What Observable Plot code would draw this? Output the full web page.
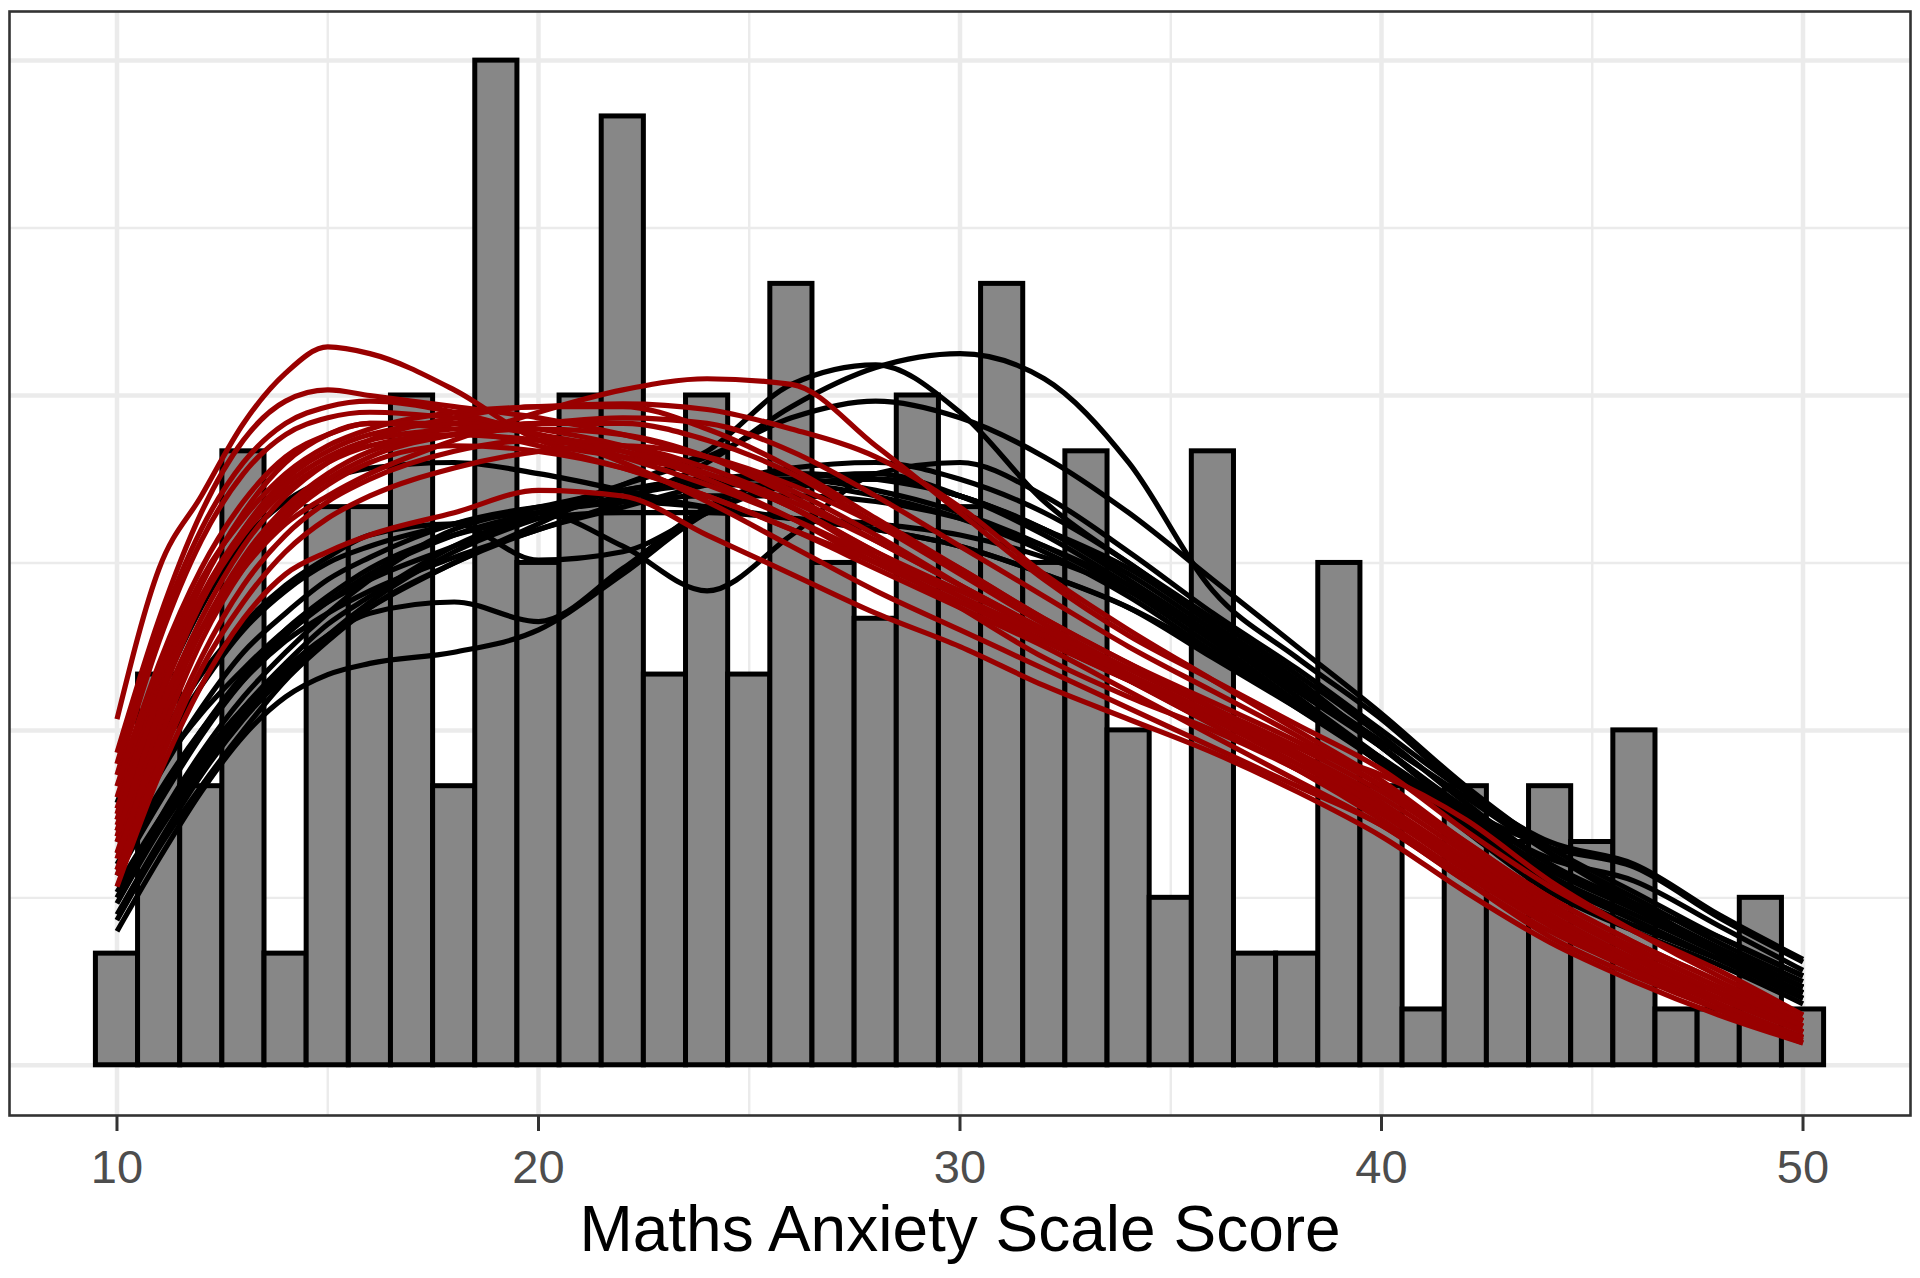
<!DOCTYPE html>
<html>
<head>
<meta charset="utf-8">
<script src="https://cdn.jsdelivr.net/npm/d3@7"></script>
<script src="https://cdn.jsdelivr.net/npm/@observablehq/plot@0.6"></script>
<style>
  html, body { margin: 0; padding: 0; background: #ffffff; }
  #chart svg { display: block; }
</style>
</head>
<body>
<div id="chart"></div>
<script>
// ---- Histogram: Maths Anxiety Scale Score (bin width 1) ----
const scoreBins = [10,11,12,13,14,15,16,17,18,19,20,21,22,23,24,25,26,27,28,29,30,31,32,33,34,35,36,37,38,39,40,41,42,43,44,45,46,47,48,49,50];
const binCounts = [2,7,5,11,2,10,10,12,5,18,9,12,17,7,12,7,14,9,8,12,10,14,9,11,6,3,11,2,2,9,5,1,5,4,5,4,6,1,1,3,1];

// ---- Density curves (scaled to count units), read at these scores ----
const curveX = [10,11,12,13,14,15,16,18,20,22,24,26,28,30,32,34,36,38,40,42,44,46,48,50];

// observed-data densities (black)
const observedCurves = [
  [3.6,4.9,6.0,6.9,7.6,8.1,8.5,9.1,9.6,10.1,10.8,11.8,12.5,12.75,12.3,10.8,8.5,7.3,6.2,4.9,3.8,2.9,2.1,1.4],
  [3.2,4.4,5.5,6.4,7.1,7.7,8.2,9.0,9.7,10.4,11.0,12.2,12.55,11.7,10.1,9.0,8.0,7.0,5.9,4.7,3.6,2.8,2.0,1.3],
  [4.0,5.3,6.3,7.1,7.8,8.3,8.7,9.3,9.9,10.4,10.9,11.6,11.9,11.6,10.9,9.9,8.7,7.5,6.3,5.0,3.9,3.1,2.3,1.6],
  [4.4,5.8,7.0,7.9,8.6,9.1,9.5,9.7,9.05,9.2,9.9,10.4,10.5,10.2,9.6,8.9,7.9,6.9,5.7,4.5,3.5,2.8,2.1,1.4],
  [4.7,6.6,8.2,9.4,10.1,10.5,10.7,10.8,10.6,10.3,10.0,9.8,9.6,9.3,8.8,8.2,7.4,6.5,5.5,4.4,3.4,2.6,1.9,1.2],
  [3.0,4.4,5.6,6.6,7.4,8.1,8.7,9.6,9.9,9.3,8.5,9.5,10.6,10.8,10.2,9.2,8.1,7.1,6.0,4.9,4.0,3.6,2.7,1.9],
  [2.9,4.2,5.3,6.3,7.1,7.7,8.1,8.3,7.95,8.9,10.0,10.5,10.6,10.2,9.5,8.6,7.6,6.5,5.4,4.3,3.3,2.6,1.9,1.2],
  [2.4,3.7,4.9,5.9,6.6,7.0,7.2,7.4,7.8,8.8,9.9,10.4,10.5,10.2,9.6,8.7,7.7,6.6,5.5,4.4,3.5,2.8,2.1,1.4],
  [3.4,4.7,5.9,6.9,7.7,8.3,8.8,9.5,9.9,10.1,10.2,10.2,10.1,9.8,9.3,8.6,7.7,6.7,5.7,4.6,3.9,3.55,2.65,1.85],
  [3.8,5.2,6.4,7.4,8.1,8.7,9.1,9.7,10.0,10.1,10.0,9.8,9.6,9.3,8.8,8.2,7.3,6.4,5.5,4.5,3.7,3.3,2.5,1.7],
  [2.7,4.0,5.2,6.2,7.0,7.7,8.3,9.2,9.8,10.2,10.4,10.4,10.2,9.8,9.2,8.4,7.4,6.4,5.4,4.2,3.1,2.4,1.8,1.1],
  [4.2,5.6,6.8,7.8,8.5,9.0,9.3,9.7,10.0,10.3,10.5,10.5,10.3,9.9,9.3,8.5,7.5,6.5,5.4,4.3,3.2,2.5,1.9,1.3],
  [3.1,4.3,5.4,6.4,7.2,7.9,8.4,9.3,9.9,10.3,10.5,10.6,10.5,10.2,9.6,8.8,7.8,6.8,5.7,4.6,3.6,2.9,2.3,1.6],
  [3.5,4.8,6.0,7.0,7.8,8.4,8.9,9.5,9.8,9.9,9.9,9.8,9.7,9.5,9.1,8.5,7.7,6.8,5.8,4.8,3.8,3.0,2.2,1.5],
  [2.6,3.9,5.0,6.0,6.9,7.6,8.2,9.0,9.6,10.0,10.4,10.7,10.8,10.5,9.9,9.0,7.9,6.8,5.7,4.5,3.4,2.7,2.0,1.3]
];

// imputed-data densities (dark red)
const imputedCurves = [
  [6.2,8.9,10.2,11.5,12.4,12.87,12.75,12.1,11.2,10.9,10.6,10.0,9.2,8.5,7.8,7.0,6.2,5.4,4.6,3.7,2.8,2.1,1.4,0.8],
  [5.6,8.0,9.9,11.2,11.9,12.1,12.0,11.8,11.6,11.3,10.9,10.3,9.5,8.6,7.7,6.9,6.1,5.3,4.5,3.5,2.6,1.9,1.3,0.7],
  [4.3,6.2,7.8,8.9,9.7,10.2,10.6,11.2,11.7,12.1,12.3,12.2,11.1,9.9,8.7,7.7,6.9,6.1,5.3,4.2,3.2,2.4,1.7,0.9],
  [4.8,7.0,8.7,9.8,10.6,11.1,11.4,11.7,11.8,11.85,11.75,11.4,10.9,10.0,8.8,7.8,6.9,6.0,5.1,4.0,3.0,2.2,1.5,0.8],
  [5.2,7.6,9.4,10.6,11.3,11.6,11.7,11.6,11.4,11.1,10.6,10.0,9.2,8.4,7.6,6.9,6.1,5.3,4.4,3.4,2.5,1.8,1.1,0.5],
  [4.5,6.8,8.6,9.9,10.8,11.3,11.5,11.5,11.3,11.0,10.5,9.8,9.0,8.3,7.6,6.9,6.2,5.5,4.6,3.6,2.6,1.8,1.1,0.5],
  [3.8,6.0,7.8,9.1,10.0,10.6,11.0,11.3,11.4,11.3,10.9,10.2,9.4,8.6,7.8,7.0,6.3,5.6,4.8,3.8,2.8,2.0,1.3,0.6],
  [4.0,6.1,7.8,9.0,9.9,10.5,10.9,11.3,11.5,11.5,11.2,10.6,9.7,8.8,7.9,7.1,6.4,5.7,4.9,3.9,2.9,2.1,1.4,0.7],
  [3.5,5.6,7.3,8.6,9.5,10.1,10.5,11.0,11.2,11.1,10.7,10.1,9.4,8.6,7.8,7.1,6.4,5.6,4.7,3.6,2.6,1.8,1.1,0.5],
  [3.2,5.2,6.8,8.0,8.8,9.2,9.5,9.9,10.3,10.2,9.5,8.8,8.1,7.5,6.8,6.2,5.6,4.9,4.1,3.1,2.2,1.5,0.9,0.4],
  [4.2,6.5,8.3,9.6,10.5,11.0,11.3,11.5,11.3,10.8,10.1,9.3,8.5,7.8,7.1,6.4,5.7,5.0,4.3,3.3,2.4,1.7,1.0,0.45],
  [5.0,7.2,8.9,10.1,10.9,11.3,11.5,11.4,11.1,10.7,10.2,9.6,8.9,8.2,7.5,6.7,5.9,5.1,4.3,3.3,2.3,1.6,1.0,0.5],
  [4.6,6.7,8.4,9.6,10.4,10.9,11.2,11.4,11.5,11.6,11.5,11.0,10.2,9.3,8.4,7.5,6.7,5.9,5.0,3.9,2.9,2.0,1.3,0.6],
  [3.7,5.8,7.6,8.9,9.8,10.4,10.8,11.1,11.0,10.7,10.2,9.6,9.0,8.3,7.6,6.9,6.3,5.7,5.2,4.4,3.3,2.4,1.6,0.9],
  [4.4,6.6,8.3,9.5,10.3,10.8,11.1,11.3,11.2,11.0,10.6,10.0,9.1,8.2,7.3,6.6,6.0,5.3,4.5,3.5,2.5,1.7,1.0,0.4],
  [3.4,5.4,7.1,8.3,9.2,9.8,10.2,10.7,11.0,11.1,10.9,10.4,9.7,8.9,8.0,7.2,6.4,5.6,4.7,3.7,2.7,1.9,1.2,0.6],
  [5.4,7.8,9.6,10.8,11.5,11.8,11.9,11.7,11.3,10.9,10.4,9.8,9.1,8.4,7.7,7.0,6.3,5.5,4.6,3.6,2.6,1.8,1.2,0.6],
  [4.1,6.3,8.0,9.3,10.2,10.8,11.2,11.6,11.8,11.8,11.4,10.7,9.8,8.9,8.0,7.2,6.5,5.8,5.0,4.0,3.0,2.2,1.5,0.8]
];

// ---- Axis ticks / grid breaks / labels ----
const xTicks = [10, 20, 30, 40, 50];
const xMinorBreaks = [15, 25, 35, 45];
const yMajorBreaks = [0, 6, 12, 18];
const yMinorBreaks = [3, 9, 15];
const xLabel = "Maths Anxiety Scale Score";

// ---- Tables for the library ----
const barTable = scoreBins.map((s, i) => ({ x1: s - 0.5, x2: s + 0.5, base: 0, count: binCounts[i] }));
function curveTable(curves, group) {
  return curves.flatMap((ys, k) => ys.map((y, i) => ({ x: curveX[i], y, id: group + k })));
}
const observedTable = curveTable(observedCurves, "obs");
const imputedTable = curveTable(imputedCurves, "imp");

const gridColor = "#EBEBEB";

const chart = Plot.plot({
  width: 1920,
  height: 1278,
  marginLeft: 9,
  marginRight: 10,
  marginTop: 11,
  marginBottom: 163,
  style: { background: "white", fontFamily: "'Liberation Sans', Arial, Helvetica, sans-serif" },
  x: { domain: [7.45, 52.55], axis: null },
  y: { domain: [-0.9, 18.88], axis: null },
  marks: [
    Plot.gridX(xMinorBreaks, { stroke: gridColor, strokeOpacity: 1, strokeWidth: 2.4 }),
    Plot.gridY(yMinorBreaks, { stroke: gridColor, strokeOpacity: 1, strokeWidth: 2.4 }),
    Plot.gridX(xTicks, { stroke: gridColor, strokeOpacity: 1, strokeWidth: 4.5 }),
    Plot.gridY(yMajorBreaks, { stroke: gridColor, strokeOpacity: 1, strokeWidth: 4.5 }),
    Plot.rect(barTable, { x1: "x1", x2: "x2", y1: "base", y2: "count", fill: "#878787", stroke: "black", strokeWidth: 5 }),
    Plot.line(observedTable, { x: "x", y: "y", z: "id", stroke: "black", strokeWidth: 5.2, curve: "monotone-x", strokeLinecap: "butt" }),
    Plot.line(imputedTable, { x: "x", y: "y", z: "id", stroke: "#990000", strokeWidth: 5.2, curve: "monotone-x", strokeLinecap: "butt" }),
    Plot.frame({ stroke: "#333333", strokeWidth: 2.6 }),
    Plot.axisX(xTicks, { tickSize: 16, tickPadding: 18, fontSize: 47, stroke: "#333333", strokeWidth: 3, fill: "#4D4D4D", label: null }),
    Plot.text([xLabel], { text: d => d, frameAnchor: "bottom", lineAnchor: "top", dy: 90, fontSize: 64, fill: "black" })
  ]
});

document.getElementById("chart").appendChild(chart);
</script>
</body>
</html>
